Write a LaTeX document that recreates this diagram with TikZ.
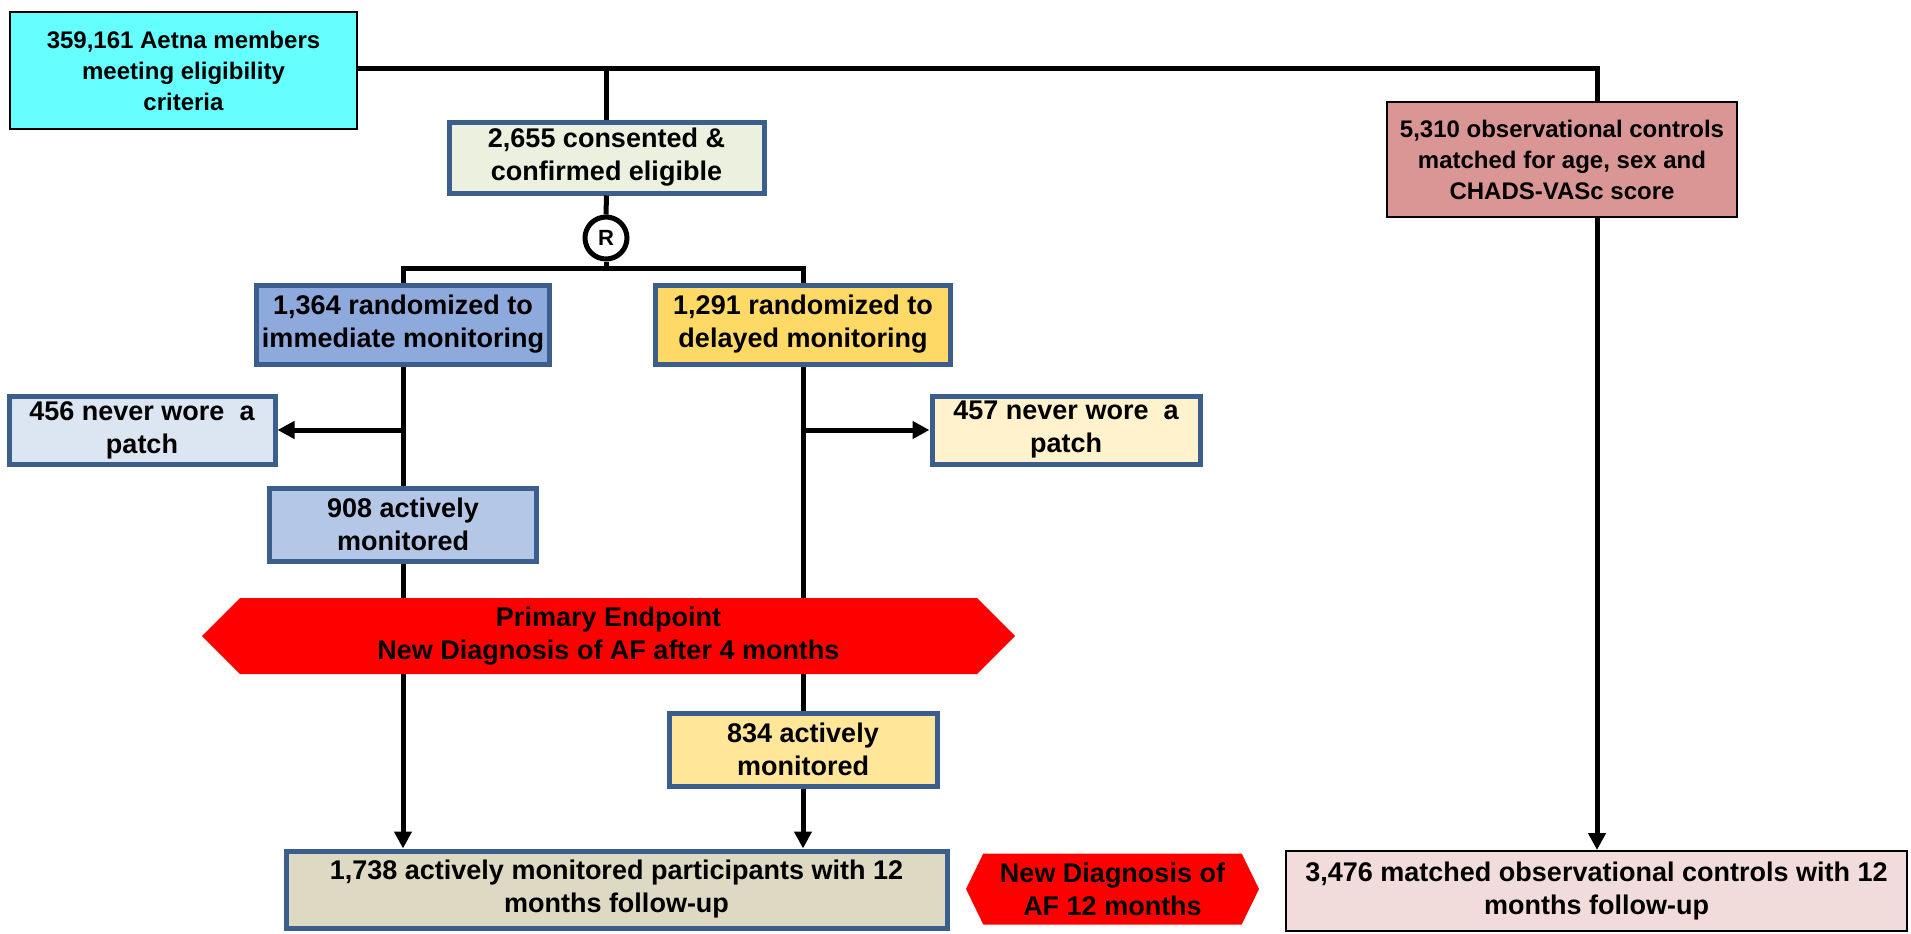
\documentclass[tikz,border=0pt]{standalone}
\usepackage{fontspec}
\setmainfont{Liberation Sans}
\usetikzlibrary{arrows.meta,shapes.symbols}
\definecolor{boxline}{HTML}{3B5E8C}
\definecolor{aetnacyan}{HTML}{66FFFF}
\definecolor{consentgreen}{HTML}{EBF1DE}
\definecolor{immblue}{HTML}{8EA9DB}
\definecolor{delyellow}{HTML}{FFD966}
\definecolor{lightblue}{HTML}{DCE6F2}
\definecolor{lightyellow}{HTML}{FFF2CC}
\definecolor{actblue}{HTML}{B4C7E7}
\definecolor{actyellow}{HTML}{FFE699}
\definecolor{followtan}{HTML}{DDD9C3}
\definecolor{obspink}{HTML}{F2DCDB}
\definecolor{obsred}{HTML}{DA9694}
\begin{document}
\begin{tikzpicture}[x=1pt, y=-1pt,
  box/.style={draw=boxline, line width=5pt, align=center, inner sep=0pt, font=\bfseries\fontsize{27}{33}\selectfont},
  plainbox/.style={draw=black, line width=2pt, align=center, inner sep=0pt, font=\bfseries\fontsize{24}{31}\selectfont},
  flow/.style={draw=black, line width=5pt},
  flowarrow/.style={flow, -{Triangle[length=17pt, width=17pt]}},
  endpoint/.style={signal, signal to=west and east, fill=red, align=center, inner sep=0pt, font=\bfseries\fontsize{27}{33}\selectfont}]
\useasboundingbox[fill=white] (0,0) rectangle (1911,934);
\node[plainbox, fill=aetnacyan, minimum width=347pt, minimum height=117pt] (aetna) at (183.5,70.5) {359,161 Aetna members\\meeting eligibility\\criteria};
\node[box, fill=consentgreen, minimum width=315pt, minimum height=71pt] (consent) at (606.5,157.5) {2,655 consented \&\\confirmed eligible};
\node[circle, draw=black, fill=white, line width=5pt, minimum size=42pt, inner sep=0pt, font=\bfseries\fontsize{22}{22}\selectfont] (rand) at (606,238) {R};
\coordinate (split) at (606,268);
\node[box, fill=immblue, minimum width=293pt, minimum height=79pt] (imm) at (403,324.5) {1,364 randomized to\\immediate monitoring};
\node[box, fill=delyellow, minimum width=295pt, minimum height=79pt] (del) at (803,324.5) {1,291 randomized to\\delayed monitoring};
\node[box, fill=lightblue, minimum width=266pt, minimum height=68pt] (nopatchA) at (142,430) {456 never wore\ \ a\\patch};
\node[box, fill=lightyellow, minimum width=268pt, minimum height=68pt] (nopatchB) at (1066,430) {457 never wore\ \ a\\patch};
\node[box, fill=actblue, minimum width=267pt, minimum height=73pt] (actA) at (403,524.5) {908 actively\\monitored};
\node[box, fill=actyellow, minimum width=268pt, minimum height=73pt] (actB) at (803,749.5) {834 actively\\monitored};
\node[box, fill=followtan, minimum width=661pt, minimum height=77pt] (follow) at (616.5,889.5) {1,738 actively monitored participants with 12\\months follow-up};
\node[endpoint, signal pointer angle=128, minimum width=293pt, minimum height=71pt] (final) at (1112.5,889) {New Diagnosis of\\AF 12 months};
\node[plainbox, fill=obsred, minimum width=350pt, minimum height=115pt] (obs) at (1562,159.5) {5,310 observational controls\\matched for age, sex and\\CHADS-VASc score};
\node[plainbox, fill=obspink, minimum width=621pt, minimum height=80pt, font=\bfseries\fontsize{27}{33}\selectfont] (obsfollow) at (1596.5,891) {3,476 matched observational controls with 12\\months follow-up};
\coordinate (corner) at (1597,69);
\draw[flow] (aetna.east |- corner) -- (corner) -- (corner |- obs.north);
\draw[flow] (consent.north |- corner) -- (consent.north);
\draw[flow] (consent.south) -- (rand.north);
\draw[flow] (rand.south) -- (split);
\draw[flow] (imm.north) |- (split) -| (del.north);
\draw[flow] (imm.south) -- (actA.north);
\draw[flowarrow] (imm.south |- nopatchA.east) -- (nopatchA.east);
\draw[flowarrow] (actA.south) -- (actA.south |- follow.north);
\draw[flow] (del.south) -- (actB.north);
\draw[flowarrow] (del.south |- nopatchB.west) -- (nopatchB.west);
\draw[flowarrow] (actB.south) -- (actB.south |- follow.north);
\draw[flowarrow] (obs.south -| corner) -- (obsfollow.north -| corner);
\node[endpoint, signal pointer angle=90, minimum width=813pt, minimum height=76pt] (primary) at (608.5,636) {Primary Endpoint\\New Diagnosis of AF after 4 months};
\end{tikzpicture}
\end{document}
